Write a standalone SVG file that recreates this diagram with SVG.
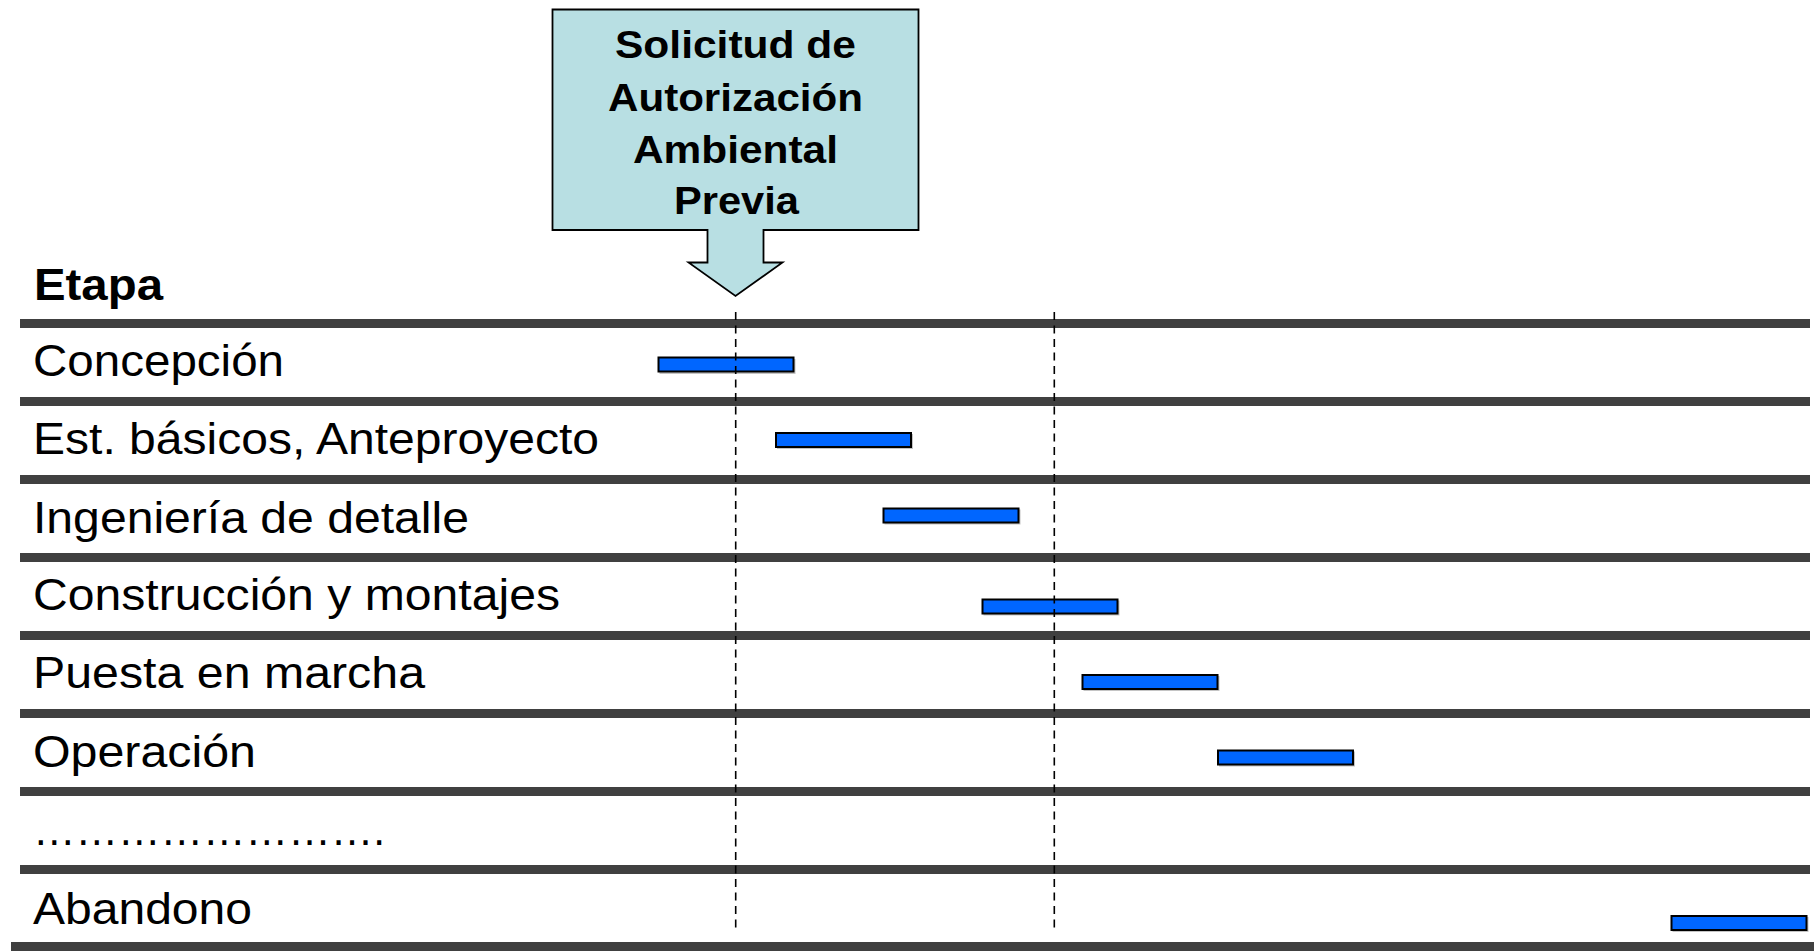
<svg xmlns="http://www.w3.org/2000/svg" width="1814" height="951" viewBox="0 0 1814 951">
  <style>
    .sep { fill: #404040; }
    .lbl { font-family: "Liberation Sans", Arial, sans-serif; font-size: 44px; fill: #000; }
    .hdr { font-family: "Liberation Sans", Arial, sans-serif; font-size: 44px; font-weight: bold; fill: #000; }
    .ctext { font-family: "Liberation Sans", Arial, sans-serif; font-size: 38px; font-weight: bold; fill: #000; text-anchor: middle; }
    .bar { fill: #0066FF; stroke: #000; stroke-width: 2; }
    .shadow { fill: #8a8a8a; opacity: 0.5; }
    .dash { stroke: #000; stroke-width: 1.6; stroke-dasharray: 8 5.5; fill: none; }
  </style>
  <rect width="1814" height="951" fill="#fff"/>

  <g id="separators">
    <rect class="sep" x="20" y="319" width="1790" height="9"/>
    <rect class="sep" x="20" y="397" width="1790" height="9"/>
    <rect class="sep" x="20" y="475" width="1790" height="9"/>
    <rect class="sep" x="20" y="553" width="1790" height="9"/>
    <rect class="sep" x="20" y="631" width="1790" height="9"/>
    <rect class="sep" x="20" y="709" width="1790" height="9"/>
    <rect class="sep" x="20" y="787" width="1790" height="9"/>
    <rect class="sep" x="20" y="865" width="1790" height="9"/>
    <rect class="sep" x="11" y="942" width="1803" height="9"/>
  </g>

  <g id="labels">
    <text class="hdr" x="34" y="300" textLength="129" lengthAdjust="spacingAndGlyphs">Etapa</text>
    <text class="lbl" x="33" y="376" textLength="251" lengthAdjust="spacingAndGlyphs">Concepción</text>
    <text class="lbl" x="33" y="454" textLength="566" lengthAdjust="spacingAndGlyphs">Est. básicos, Anteproyecto</text>
    <text class="lbl" x="33" y="533" textLength="436" lengthAdjust="spacingAndGlyphs">Ingeniería de detalle</text>
    <text class="lbl" x="33" y="610" textLength="527" lengthAdjust="spacingAndGlyphs">Construcción y montajes</text>
    <text class="lbl" x="33" y="688" textLength="392" lengthAdjust="spacingAndGlyphs">Puesta en marcha</text>
    <text class="lbl" x="33" y="767" textLength="223" lengthAdjust="spacingAndGlyphs">Operación</text>
    <text class="lbl" x="33" y="845" textLength="352" lengthAdjust="spacingAndGlyphs">…………………….</text>
    <text class="lbl" x="33" y="924" textLength="219" lengthAdjust="spacingAndGlyphs">Abandono</text>
  </g>

  <g id="bars">
    <g id="bar-concepcion"><rect class="shadow" x="659.5" y="359" width="136" height="15"/><rect class="bar" x="658.5" y="357.5" width="135" height="14"/></g>
    <g id="bar-estudios"><rect class="shadow" x="777" y="434" width="136" height="15"/><rect class="bar" x="776" y="433" width="135" height="14"/></g>
    <g id="bar-ingenieria"><rect class="shadow" x="884.5" y="509.5" width="136" height="15"/><rect class="bar" x="883.5" y="508.5" width="135" height="14"/></g>
    <g id="bar-construccion"><rect class="shadow" x="983.5" y="600.5" width="136" height="15"/><rect class="bar" x="982.5" y="599.5" width="135" height="14"/></g>
    <g id="bar-puesta"><rect class="shadow" x="1083.5" y="676" width="136" height="15"/><rect class="bar" x="1082.5" y="675" width="135" height="14"/></g>
    <g id="bar-operacion"><rect class="shadow" x="1219" y="751.5" width="136" height="15"/><rect class="bar" x="1218" y="750.5" width="135" height="14"/></g>
    <g id="bar-abandono"><rect class="shadow" x="1672.5" y="917" width="136" height="15"/><rect class="bar" x="1671.5" y="916" width="135" height="14"/></g>
  </g>

  <g id="callout">
    <path d="M552.5,9.5 H918.5 V230 H763.5 V262.5 H782.5 L735.5,296 L688.5,262.5 H707.5 V230 H552.5 Z" fill="#B8DFE3" stroke="#000" stroke-width="1.8" stroke-linejoin="miter"/>
    <text class="ctext" x="735.5" y="58" textLength="241" lengthAdjust="spacingAndGlyphs">Solicitud de</text>
    <text class="ctext" x="735.5" y="111" textLength="255" lengthAdjust="spacingAndGlyphs">Autorización</text>
    <text class="ctext" x="735.5" y="162.5" textLength="205" lengthAdjust="spacingAndGlyphs">Ambiental</text>
    <text class="ctext" x="736.5" y="214" textLength="125" lengthAdjust="spacingAndGlyphs">Previa</text>
  </g>

  <g id="connectors">
    <line class="dash" x1="735.7" y1="312" x2="735.7" y2="932"/>
    <line class="dash" x1="1054.3" y1="312" x2="1054.3" y2="932"/>
  </g>
</svg>
